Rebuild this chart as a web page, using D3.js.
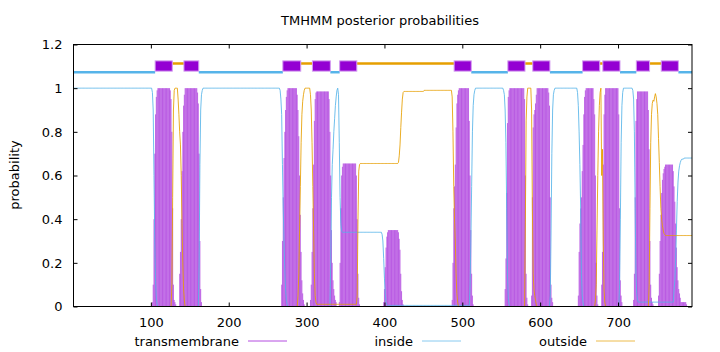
<!DOCTYPE html>
<html>
<head>
<meta charset="utf-8">
<script src="https://cdn.jsdelivr.net/npm/d3@7"></script>
<style>
  body { margin: 0; background: #fff; }
  text { font-family: "DejaVu Sans", sans-serif; font-size: 13px; fill: #000; }
</style>
</head>
<body>
<svg id="chart" width="720" height="352"></svg>
<script>
// TMHMM posterior probabilities, one value per residue

const seqLength = 795;
const xTicks = [100, 200, 300, 400, 500, 600, 700];
const xTickLabels = ['100', '200', '300', '400', '500', '600', '700'];
const yTicks = [0, 0.2, 0.4, 0.6, 0.8, 1, 1.2];
const yTickLabels = ['0', '0.2', '0.4', '0.6', '0.8', '1', '1.2'];
const seriesNames = ['transmembrane', 'inside', 'outside'];

// predicted helices (first, last residue), topology starts inside
const tmSegments = [[106, 127], [143, 161], [270, 292], [308, 330], [343, 364], [490, 511],
  [559, 580], [591, 612], [655, 676], [681, 702], [724, 740], [756, 777]];

// pieces: [from, to, value] = flat run, [from, [values...]] = residue by residue
const tmPieces = [
  [102, [0.02, 0.1, 0.4, 0.7, 0.88, 0.96, 0.99]], [109, 124, 1],
  [125, [0.99, 0.95, 0.8, 0.45, 0.1, 0.03, 0.02, 0.01]],
  [137, [0.15, 0.25, 0.4, 0.62, 0.8, 0.92, 0.97]], [144, 159, 1],
  [160, [0.98, 0.93, 0.7, 0.3, 0.08, 0.02]],
  [268, [0.1, 0.3, 0.5, 0.68, 0.8, 0.9, 0.96, 0.99]], [276, 287, 1],
  [288, [0.97, 0.9, 0.78, 0.6, 0.42, 0.25, 0.12, 0.06, 0.03, 0.01]],
  [305, [0.03, 0.1, 0.25, 0.45, 0.65, 0.85, 0.95, 0.98]], [313, 328, 0.985],
  [329, [0.95, 0.8, 0.6, 0.35, 0.2, 0.12, 0.08, 0.05, 0.03, 0.02]],
  [342, [0.02, 0.2, 0.45, 0.6, 0.64]], [347, 363, 0.655],
  [364, [0.6, 0.4, 0.15, 0.04, 0.01]],
  [399, [0.02, 0.08, 0.18, 0.27, 0.32, 0.34]], [405, 417, 0.35],
  [418, [0.34, 0.31, 0.26, 0.15, 0.07, 0.03, 0.01]],
  [487, [0.03, 0.2, 0.45, 0.55, 0.65, 0.82, 0.93, 0.97, 0.99]], [496, 508, 1],
  [509, [0.85, 0.6, 0.35, 0.15, 0.05, 0.01]],
  [555, [0.08, 0.22, 0.52, 0.84, 0.96, 0.99]], [561, 579, 1],
  [580, [0.95, 0.6, 0.15, 0.04, 0.01]],
  [589, [0.05, 0.5, 0.82, 0.88, 0.9, 0.93, 0.97]], [596, 610, 1],
  [611, [0.98, 0.92, 0.5, 0.1, 0.04, 0.02]],
  [649, [0.05, 0.25, 0.38, 0.45, 0.5, 0.62, 0.74, 0.88, 0.96, 0.99]], [659, 668, 1],
  [669, [0.95, 0.88, 0.6, 0.2, 0.05, 0.01]],
  [679, [0.1, 0.25, 0.65, 0.88, 0.97]], [684, 700, 1],
  [701, [0.88, 0.45, 0.12, 0.05, 0.02]],
  [720, [0.03, 0.15, 0.5, 0.85, 0.95]], [725, 738, 0.985],
  [739, [0.9, 0.72, 0.3, 0.1, 0.04, 0.02, 0.01]],
  [752, [0.05, 0.15, 0.3, 0.42, 0.52, 0.58, 0.61, 0.63, 0.64]], [761, 770, 0.65],
  [771, [0.62, 0.55, 0.48, 0.38, 0.27, 0.18, 0.12, 0.08, 0.06, 0.04]], [781, 787, 0.02],
  [788, [0.01]]
];

const insidePieces = [
  [1, 101, 1], [102, [0.98, 0.9, 0.6, 0.3, 0.12, 0.04, 0.01]],
  [162, [0.2, 0.65, 0.9, 0.97, 0.99]], [167, 265, 1],
  [266, [0.99, 0.95, 0.88, 0.65, 0.45, 0.3, 0.17, 0.08, 0.03, 0.01]],
  [331, [0.2, 0.5, 0.65, 0.72, 0.8, 0.86, 0.92, 0.96, 0.99, 1, 0.97, 0.75, 0.5, 0.38, 0.345]],
  [346, 396, 0.34], [397, [0.33, 0.3, 0.22, 0.13, 0.06, 0.02, 0.01]],
  [404, 509, 0.005], [510, [0.1, 0.3, 0.55, 0.8, 0.92, 0.97, 0.99]], [517, 552, 1],
  [553, [0.99, 0.97, 0.9, 0.75, 0.45, 0.15, 0.04, 0.01]],
  [613, [0.05, 0.35, 0.7, 0.9, 0.97, 0.99]], [619, 647, 1],
  [648, [0.98, 0.92, 0.8, 0.65, 0.45, 0.15, 0.05, 0.02]],
  [702, [0.1, 0.4, 0.75, 0.92, 0.98]], [707, 718, 1],
  [719, [0.99, 0.95, 0.8, 0.45, 0.15, 0.06, 0.03]], [726, 771, 0.02],
  [772, [0.08, 0.12, 0.22, 0.35, 0.48, 0.57, 0.62, 0.645, 0.66, 0.67, 0.675, 0.675, 0.675]],
  [785, 795, 0.68]
];

const outsidePieces = [
  [127, [0.1, 0.5, 0.9, 0.99]], [131, 134, 1],
  [135, [0.95, 0.88, 0.8, 0.74, 0.6, 0.38, 0.2, 0.08, 0.03]],
  [289, [0.05, 0.15, 0.35, 0.55, 0.75, 0.88, 0.94, 0.97, 0.99]], [298, 304, 1],
  [305, [0.97, 0.9, 0.75, 0.55, 0.35, 0.15, 0.05, 0.02]], [313, 364, 0.01],
  [365, [0.05, 0.4, 0.62, 0.65]], [369, 417, 0.655],
  [418, [0.66, 0.69, 0.74, 0.82, 0.89, 0.95, 0.98]], [425, 450, 0.985], [451, 486, 0.99],
  [487, [0.96, 0.8, 0.55, 0.4, 0.3, 0.15, 0.06, 0.02]],
  [581, [0.4, 0.85, 0.96]], [584, 588, 1],
  [589, [0.9, 0.45, 0.15, 0.08, 0.05, 0.03, 0.01]],
  [671, [0.03, 0.1, 0.35, 0.6, 0.8, 0.92, 0.98, 1, 0.6, 0.72, 0.3, 0.08, 0.02]],
  [740, [0.1, 0.45, 0.75, 0.88, 0.93, 0.945, 0.94, 0.96, 0.975, 0.96, 0.93, 0.88, 0.77,
    0.66, 0.55, 0.45, 0.4, 0.37, 0.35, 0.335, 0.33]],
  [761, 795, 0.325]
];

function expand(pieces) { //turn the pieces into one value per residue
  const out = new Array(seqLength).fill(0);
  pieces.forEach(p => {
    if (Array.isArray(p[1])) p[1].forEach((v, i) => { out[p[0] - 1 + i] = v; });
    else for (let r = p[0]; r <= p[1]; r++) out[r - 1] = p[2];
  });
  return out.map((v, i) => ({pos: i + 1, v: v}));
}

const tm = expand(tmPieces);
const inside = expand(insidePieces);
const outside = expand(outsidePieces);

const colors = {transmembrane: '#9400d3', inside: '#56b4e9', outside: '#e69f00'};
const margin = {left: 73, right: 28, top: 44.5, bottom: 45.5};
const W = 720, H = 352;

const svg = d3.select('#chart');

const x = d3.scaleLinear().domain([0, seqLength]).range([margin.left, W - margin.right]);
const y = d3.scaleLinear().domain([0, 1.2]).range([H - margin.bottom, margin.top]);

// impulses for transmembrane
svg.append('g')
  .selectAll('line')
  .data(tm.filter(d => d.v > 0))
  .join('line')
  .attr('x1', d => x(d.pos)).attr('x2', d => x(d.pos))
  .attr('y1', y(0)).attr('y2', d => y(d.v))
  .attr('stroke', colors.transmembrane)
  .attr('stroke-opacity', 0.55)
  .attr('stroke-width', 1);

const line = d3.line().x(d => x(d.pos)).y(d => y(d.v));

svg.append('path').datum(inside)
  .attr('d', line).attr('fill', 'none')
  .attr('stroke', colors.inside).attr('stroke-opacity', 0.85).attr('stroke-width', 1);

svg.append('path').datum(outside)
  .attr('d', line).attr('fill', 'none')
  .attr('stroke', colors.outside).attr('stroke-opacity', 0.85).attr('stroke-width', 1);

// topology strip above the curves
const topo = svg.append('g');
let prevEnd = 0;
tmSegments.forEach((s, i) => {
  const side = i % 2 === 0 ? 'inside' : 'outside';
  topo.append('line')
    .attr('x1', x(prevEnd)).attr('x2', x(s[0] - 0.5))
    .attr('y1', y(side === 'inside' ? 1.073 : 1.113))
    .attr('y2', y(side === 'inside' ? 1.073 : 1.113))
    .attr('stroke', colors[side]).attr('stroke-width', 2.5);
  prevEnd = s[1] + 0.5;
});
topo.append('line') //last stretch after final helix
  .attr('x1', x(prevEnd)).attr('x2', x(seqLength))
  .attr('y1', y(1.073)).attr('y2', y(1.073))
  .attr('stroke', colors.inside).attr('stroke-width', 2.5);

topo.selectAll('rect')
  .data(tmSegments)
  .join('rect')
  .attr('x', d => x(d[0] - 0.5))
  .attr('width', d => x(d[1] + 0.5) - x(d[0] - 0.5))
  .attr('y', y(1.125))
  .attr('height', y(1.078) - y(1.125))
  .attr('fill', colors.transmembrane)
  .attr('stroke', '#d49cf0').attr('stroke-width', 1);

// axes, ticks pointing in and mirrored
svg.append('g')
  .attr('transform', `translate(0, ${y(0)})`)
  .call(d3.axisBottom(x).tickValues(xTicks).tickSize(-4).tickPadding(11)
    .tickFormat((d, i) => xTickLabels[i]));
svg.append('g')
  .attr('transform', `translate(0, ${y(1.2)})`)
  .call(d3.axisTop(x).tickValues(xTicks).tickSize(-4).tickFormat(''));
svg.append('g')
  .attr('transform', `translate(${margin.left + 0.5}, 0)`)
  .call(d3.axisLeft(y).tickValues(yTicks).tickSize(-4).tickPadding(11)
    .tickFormat((d, i) => yTickLabels[i]));
svg.append('g')
  .attr('transform', `translate(${W - margin.right}, 0)`)
  .call(d3.axisRight(y).tickValues(yTicks).tickSize(-4).tickFormat(''));

svg.selectAll('.domain').remove();
svg.selectAll('.tick line').attr('stroke', '#000');
svg.selectAll('.tick text')
  .style('font-family', '"DejaVu Sans", sans-serif').style('font-size', '13px');

// border
svg.append('rect')
  .attr('x', margin.left + 0.5).attr('y', margin.top)
  .attr('width', W - margin.right - margin.left - 0.5)
  .attr('height', y(0) - margin.top)
  .attr('fill', 'none').attr('stroke', '#000').attr('stroke-width', 1);

svg.append('text')
  .attr('x', 380).attr('y', 25)
  .style('text-anchor', 'middle')
  .text('TMHMM posterior probabilities');

svg.append('text')
  .attr('transform', 'translate(19, 175) rotate(-90)')
  .style('text-anchor', 'middle')
  .text('probability');

// legend along the bottom
const legendX = [248, 422, 596];
seriesNames.forEach((name, i) => {
  svg.append('text')
    .attr('x', legendX[i] - 9).attr('y', 346)
    .style('text-anchor', 'end')
    .text(name);
  svg.append('line')
    .attr('x1', legendX[i]).attr('x2', legendX[i] + 39)
    .attr('y1', 341).attr('y2', 341)
    .attr('stroke', colors[name]).attr('stroke-opacity', 0.7).attr('stroke-width', 1);
});
</script>
</body>
</html>
